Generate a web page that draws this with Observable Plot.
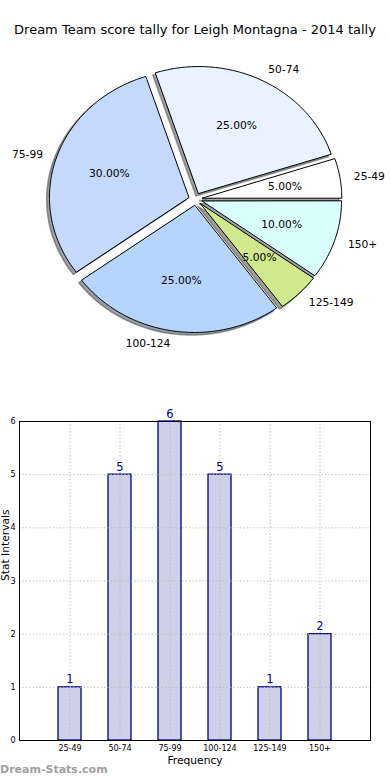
<!DOCTYPE html>
<html><head><meta charset="utf-8">
<script src="https://cdn.jsdelivr.net/npm/d3@7"></script>
<script src="https://cdn.jsdelivr.net/npm/@observablehq/plot@0.6"></script>
<style>
body{margin:0;background:#fff;font-family:"DejaVu Sans",sans-serif;}
#wrap{position:relative;width:390px;height:780px;overflow:hidden;background:#fff;}
#title{position:absolute;left:0;top:20px;width:390px;height:20px;line-height:20px;text-align:center;font-size:13px;color:#000;white-space:nowrap;}
#pie{position:absolute;left:0;top:50px;}
#bar{position:absolute;left:0;top:390px;}
#wm{position:absolute;left:0;top:763px;line-height:14px;font-size:11px;font-weight:bold;color:#a0a0a0;white-space:nowrap;}
</style></head><body>
<div id="wrap">
<div id="title">Dream Team score tally for Leigh Montagna - 2014 tally</div>
<div id="pie"></div>
<div id="bar"></div>
<div id="wm">Dream-Stats.com</div>
</div>
<script>
const categories = ["25-49", "50-74", "75-99", "100-124", "125-149", "150+"];
const counts = [1, 5, 6, 5, 1, 2];
const pieColors = ["#ffffff", "#eaf1ff", "#c5d9ff", "#b5d5ff", "#d0e98c", "#d9ffff"];
const explode = [0.05, 0.05, 0.05, 0.05, 0.05, 0.05];
const yTicks = [0, 1, 2, 3, 4, 5, 6];
const barFill = "#cdd0e6";
const barEdge = "#000080";
const valueColor = "#00008b";

const total = d3.sum(counts);
const rad = Math.PI / 180;

// Build wedge outlines (unit-circle data coordinates, matplotlib-style)
const wedges = [], shadows = [], labels = [], pcts = [];
let acc = 0;
categories.forEach((cat, i) => {
  const a1 = acc / total * 360;
  acc += counts[i];
  const a2 = acc / total * 360;
  const am = (a1 + a2) / 2;
  const cx = explode[i] * Math.cos(am * rad), cy = explode[i] * Math.sin(am * rad);
  const pts = [[cx, cy]];
  const n = Math.max(2, Math.ceil((a2 - a1) / 1));
  for (let k = 0; k <= n; k++) {
    const a = (a1 + (a2 - a1) * k / n) * rad;
    pts.push([cx + Math.cos(a), cy + Math.sin(a)]);
  }
  const c = d3.rgb(pieColors[i]);
  const sc = d3.rgb(c.r * 0.3, c.g * 0.3, c.b * 0.3).formatHex();
  pts.forEach(([x, y]) => {
    wedges.push({k: cat, x, y, fill: pieColors[i]});
    shadows.push({k: cat, x: x - 0.02, y: y - 0.02, fill: sc});
  });
  labels.push({x: cx + 1.1 * Math.cos(am * rad), y: cy + 1.1 * Math.sin(am * rad), text: cat});
  pcts.push({x: cx + 0.6 * Math.cos(am * rad), y: cy + 0.6 * Math.sin(am * rad),
             text: (counts[i] / total * 100).toFixed(2) + "%"});
});

const font = {fontFamily: "DejaVu Sans", fontSize: "10.7px", background: "transparent"};

const pie = Plot.plot({
  width: 390, height: 340, margin: 0,
  style: font,
  x: {domain: [-1, 1], range: [195 - 139.4, 195 + 139.4], axis: null},
  y: {domain: [-1, 1], range: [148.7 + 127, 148.7 - 127], axis: null},
  color: {type: "identity"},
  marks: [
    Plot.line(shadows, {x: "x", y: "y", z: "k", fill: "fill", fillOpacity: 0.5, stroke: "fill", strokeOpacity: 0.5, curve: "linear-closed"}),
    Plot.line(wedges, {x: "x", y: "y", z: "k", fill: "fill", stroke: "black", strokeWidth: 1, curve: "linear-closed"}),
    Plot.text(labels.filter(d => d.x > 0), {x: "x", y: "y", text: "text", textAnchor: "start", fill: "black", fontSize: 10.7}),
    Plot.text(labels.filter(d => d.x <= 0), {x: "x", y: "y", text: "text", textAnchor: "end", fill: "black", fontSize: 10.7}),
    Plot.text(pcts, {x: "x", y: "y", text: "text", fill: "black", fontSize: 10.7})
  ]
});
document.getElementById("pie").appendChild(pie);

const barData = categories.map((c, i) => ({cat: c, n: counts[i]}));

const bar = Plot.plot({
  width: 390, height: 390,
  marginLeft: 19, marginRight: 20, marginTop: 31, marginBottom: 40,
  style: font,
  x: {type: "band", domain: categories, paddingInner: 0.534, paddingOuter: 0.767, label: null, axis: null},
  y: {domain: [0, 6], label: null, axis: null},
  marks: [
    Plot.barY(barData, {x: "cat", y: "n", fill: barFill, stroke: barEdge, strokeWidth: 1.3}),
    Plot.ruleY(yTicks.slice(1), {stroke: "#b8b8b8", strokeWidth: 1, strokeDasharray: "1.2,2.2"}),
    Plot.ruleX(categories, {stroke: "#b8b8b8", strokeWidth: 1, strokeDasharray: "1.2,2.2"}),
    Plot.frame({stroke: "black", strokeWidth: 1}),
    Plot.text(barData, {x: "cat", y: "n", text: d => String(d.n), dy: -4, lineAnchor: "bottom", fill: valueColor, fontSize: 11.5}),
    Plot.axisX({tickSize: 0, tickPadding: 5, fontSize: 8, label: null}),
    Plot.axisY(yTicks, {tickSize: 0, tickPadding: 4, fontSize: 8, label: null, tickFormat: d => String(d)}),
    Plot.text(["Stat Intervals"], {frameAnchor: "left", text: d => d, rotate: -90, dx: -13.5, lineAnchor: "middle", fontSize: 10.7, fill: "black"}),
    Plot.text(["Frequency"], {frameAnchor: "bottom", text: d => d, dy: 20, lineAnchor: "middle", fontSize: 10.7, fill: "black"})
  ]
});
document.getElementById("bar").appendChild(bar);
</script>
</body></html>
